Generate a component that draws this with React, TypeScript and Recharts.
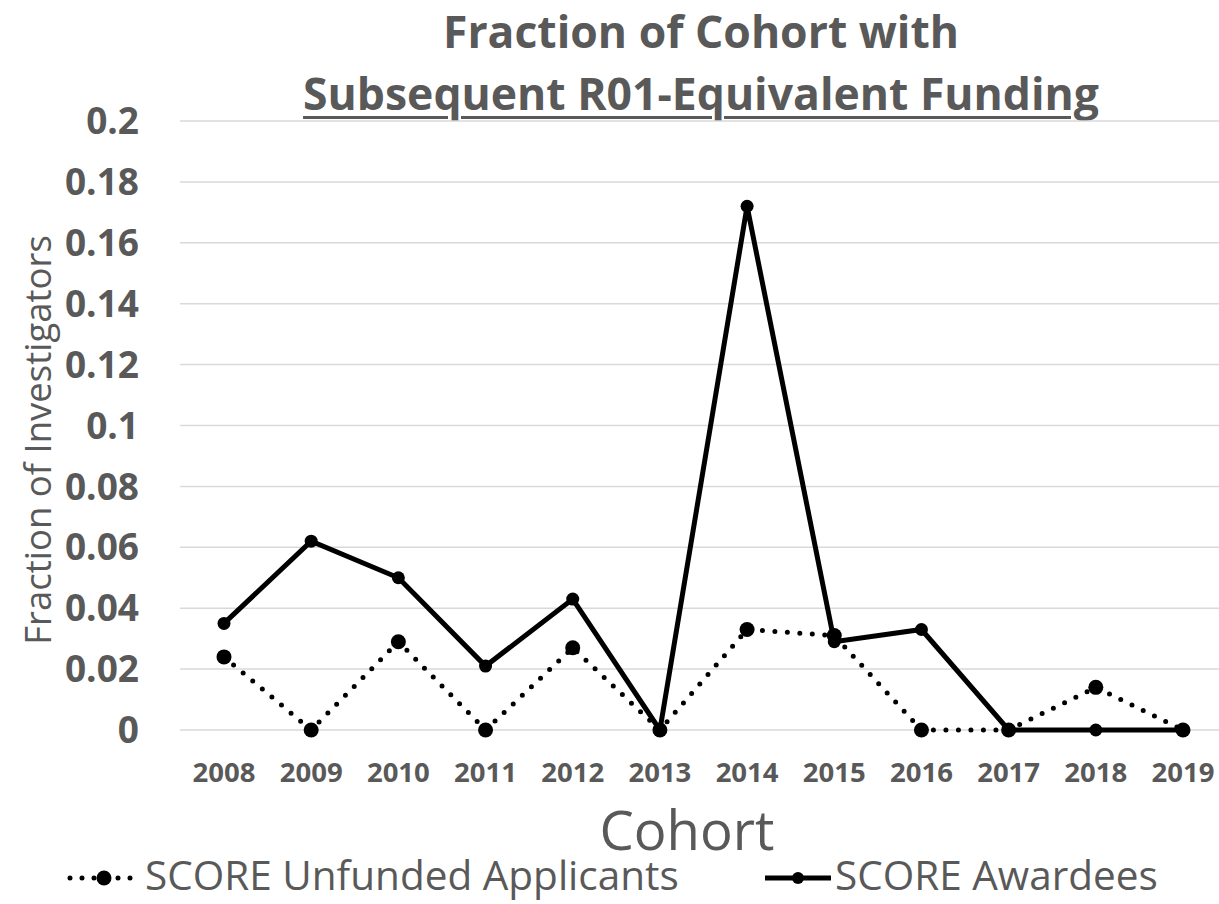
import { LineChart, Line, XAxis, YAxis, CartesianGrid, Legend } from 'recharts'

const YEARS = ['2008', '2009', '2010', '2011', '2012', '2013', '2014', '2015', '2016', '2017', '2018', '2019']
const UNFUNDED = [0.024, 0, 0.029, 0, 0.027, 0, 0.033, 0.031, 0, 0, 0.014, 0]
const AWARDEES = [0.035, 0.062, 0.05, 0.021, 0.043, 0, 0.172, 0.029, 0.033, 0, 0, 0]
const Y_TICKS = [0, 0.02, 0.04, 0.06, 0.08, 0.1, 0.12, 0.14, 0.16, 0.18, 0.2]

const GRAY = '#595959'
const FONT = '"Open Sans", sans-serif'

const data = YEARS.map((year, i) => ({
  year,
  unfunded: UNFUNDED[i],
  awardees: AWARDEES[i],
}))

function LegendContent() {
  const text = {
    display: 'inline-block',
    fontFamily: FONT,
    fontSize: 40.5,
    color: GRAY,
    whiteSpace: 'nowrap' as const,
    lineHeight: '40px',
    height: 40,
  }
  return (
    <div style={{ position: 'relative', height: 40 }}>
      <div style={{ position: 'absolute', left: 64, top: 0, height: 40, display: 'flex', alignItems: 'center' }}>
        <svg width={76} height={20} style={{ marginTop: 6 }}>
          <line x1={6} y1={10} x2={72} y2={10} stroke="#000" strokeWidth={5} strokeDasharray="0 12" strokeLinecap="round" />
          <circle cx={40} cy={10} r={7.5} fill="#000" />
        </svg>
        <span style={{ ...text, marginLeft: 5 }}>SCORE Unfunded Applicants</span>
      </div>
      <div style={{ position: 'absolute', left: 763, top: 0, height: 40, display: 'flex', alignItems: 'center' }}>
        <svg width={70} height={20} style={{ marginTop: 6 }}>
          <line x1={2} y1={10} x2={68} y2={10} stroke="#000" strokeWidth={5} />
          <circle cx={35} cy={10} r={6} fill="#000" />
        </svg>
        <span style={{ ...text, marginLeft: 2 }}>SCORE Awardees</span>
      </div>
    </div>
  )
}

const titleLine = {
  position: 'absolute' as const,
  left: 0,
  width: 1402,
  height: 44,
  lineHeight: '44px',
  textAlign: 'center' as const,
  fontFamily: FONT,
  fontWeight: 700,
  fontSize: 44.5,
  color: GRAY,
  whiteSpace: 'nowrap' as const,
}

export default function App() {
  return (
    <div style={{ position: 'absolute', left: 0, top: 0, width: 1219, height: 904, background: '#fff', overflow: 'hidden' }}>
      <div style={{ ...titleLine, top: 8.5 }}>Fraction of Cohort with</div>
      <div style={{ ...titleLine, top: 71 }}>
        <span style={{ textDecoration: 'underline', textUnderlineOffset: 6, textDecorationThickness: 3 }}>
          Subsequent R01-Equivalent Funding
        </span>
      </div>
      <div style={{ position: 'absolute', left: 37, top: 440, transform: 'translate(-50%, -50%) rotate(-90deg)', fontFamily: FONT, fontSize: 36.5, color: GRAY, whiteSpace: 'nowrap' }}>
        Fraction of Investigators
      </div>
      <div style={{ position: 'absolute', left: 687, top: 804, height: 50, lineHeight: '50px', transform: 'translateX(-50%)', fontFamily: FONT, fontSize: 54.5, color: GRAY, whiteSpace: 'nowrap' }}>
        Cohort
      </div>

      <LineChart width={1219} height={904} data={data} margin={{ top: 121, right: 0, bottom: 144, left: 0 }}>
        <CartesianGrid horizontal vertical={false} stroke="#d9d9d9" strokeWidth={1.5} />
        <XAxis
          dataKey="year"
          height={30}
          padding={{ left: 44, right: 36 }}
          axisLine={false}
          tickLine={false}
          tickSize={8}
          tickMargin={24}
          interval={0}
          tick={{ fill: GRAY, fontSize: 27.5, fontWeight: 700, fontFamily: FONT }}
        />
        <YAxis
          width={180}
          domain={[0, 0.2]}
          ticks={Y_TICKS}
          interval={0}
          axisLine={false}
          tickLine={false}
          tickSize={8}
          tickMargin={33}
          tick={{ fill: GRAY, fontSize: 37, fontWeight: 700, fontFamily: FONT }}
        />
        <Legend
          layout="horizontal"
          verticalAlign="middle"
          align="center"
          content={<LegendContent />}
          wrapperStyle={{ left: 0, top: 855, width: 1219, height: 40 }}
        />
        <Line
          dataKey="unfunded"
          name="SCORE Unfunded Applicants"
          stroke="#000"
          strokeWidth={5}
          strokeDasharray="0 12.5"
          strokeLinecap="round"
          dot={{ r: 7.5, fill: '#000', stroke: 'none', strokeDasharray: '' }}
          activeDot={false}
          isAnimationActive={false}
        />
        <Line
          dataKey="awardees"
          name="SCORE Awardees"
          stroke="#000"
          strokeWidth={5}
          dot={{ r: 6.5, fill: '#000', stroke: 'none' }}
          activeDot={false}
          isAnimationActive={false}
        />
      </LineChart>
    </div>
  )
}
